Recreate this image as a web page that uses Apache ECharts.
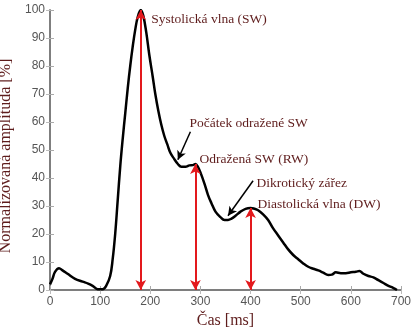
<!DOCTYPE html>
<html>
<head>
<meta charset="utf-8">
<script src="https://cdn.jsdelivr.net/npm/echarts@6/dist/echarts.min.js"></script>
<style>
  html, body { margin: 0; padding: 0; background: #fff; }
  #main { width: 412px; height: 328px; }
</style>
</head>
<body>
<div id="main"></div>
<script>
// čas [ms] a normalizovaná amplituda [%]
var casMs = [0, 5, 10, 18, 25, 35, 50, 65, 76, 85, 95, 105, 112, 120, 125, 130, 135, 140, 145, 150,
  155, 160, 165, 170, 175, 181, 186, 192, 198, 205, 210, 216, 222, 228, 234, 240, 247, 255, 262, 270,
  278, 285, 290, 295, 300, 308, 315, 322, 330, 340, 348, 355, 362, 370, 380, 390, 400, 408, 415, 425,
  435, 445, 455, 465, 475, 485, 495, 505, 515, 525, 535, 545, 555, 562, 570, 580, 590, 600, 610, 617,
  625, 635, 645, 655, 665, 675, 685, 692];
var amplituda = [2, 4, 6.5, 7.8, 7, 5.8, 4, 3, 2.3, 1.5, 0.3, 0.3, 1.5, 5, 11, 20, 32, 44, 54, 63,
  72, 80, 87, 93, 97.5, 100, 98, 92, 84, 76, 70, 64, 59, 55, 52, 49, 47, 45, 44, 44,
  44.5, 44.6, 45, 44, 42, 38, 34, 31, 28, 26, 25, 25, 25.5, 26.5, 28, 29, 29.3, 29, 28.5, 27,
  25, 22, 19.5, 17, 14.5, 12.5, 11, 9.5, 8.3, 7.6, 7, 6.2, 5.4, 5.5, 6.3, 6, 6, 6.3, 6.5, 6.8,
  5.8, 5, 4.5, 3.5, 2.5, 1.5, 0.7, 0];

// vrcholy vln (červené šipky)
var vrcholyX = [181, 290, 400];
var vrcholyY = [100, 45, 29.3];

// popisky
var popisky = ['Systolická vlna (SW)', 'Počátek odražené SW', 'Odražená SW (RW)', 'Dikrotický zářez', 'Diastolická vlna (DW)'];
var popiskyX = [201, 277, 297, 411, 413];
var popiskyY = [96.8, 59.6, 46.8, 38.2, 30.7];

// černé šipky [odkud, kam]
var sipkyOd = [[280, 56.5], [405, 39]];
var sipkyKam = [[255, 46.5], [355, 26.5]];

var serif = '"Liberation Serif", "Times New Roman", serif';
var barvaTextu = '#5e1c1c';

var myChart = echarts.init(document.getElementById('main'));

var krivka = casMs.map(function (v, i) { return [v, amplituda[i]]; });

var cervene = vrcholyX.map(function (x, i) {
  return [
    { coord: [x, vrcholyY[i]], symbol: 'arrow' },
    { coord: [x, 0], symbol: 'arrow' }
  ];
});
var cerne = sipkyOd.map(function (p, i) {
  return [
    { coord: p, symbol: 'none', lineStyle: { color: '#000', width: 1.5, type: 'solid' } },
    { coord: sipkyKam[i], symbol: 'arrow', symbolSize: [7, 9], lineStyle: { color: '#000', width: 1.5, type: 'solid' } }
  ];
});

var option = {
  animation: false,
  grid: { left: 50, right: 11, top: 10, bottom: 38, outerBoundsMode: 'none', containLabel: false },
  xAxis: [{
    type: 'value', min: 0, max: 700, interval: 100,
    name: 'Čas [ms]', nameLocation: 'middle', nameGap: 21,
    nameTextStyle: { fontFamily: serif, fontSize: 16, color: barvaTextu },
    axisLine: { lineStyle: { color: '#777', width: 1.5 } },
    axisTick: { inside: true, length: 4, lineStyle: { color: '#aaa' } },
    axisLabel: { color: '#555', fontSize: 12, margin: 6, fontFamily: 'Liberation Sans, Arial, sans-serif' },
    splitLine: { show: false }
  }, {
    type: 'value', min: 0, max: 700, interval: 100, position: 'top',
    axisLine: { show: true, lineStyle: { color: '#777', width: 1.5 } },
    axisTick: { inside: true, length: 4, lineStyle: { color: '#bbb' } },
    axisLabel: { show: false }, splitLine: { show: false }
  }],
  yAxis: [{
    type: 'value', min: 0, max: 100, interval: 10,
    name: 'Normalizovaná amplituda [%]', nameLocation: 'middle', nameGap: 31,
    nameTextStyle: { fontFamily: serif, fontSize: 16, color: barvaTextu, padding: [0, 12, 0, 0] },
    axisLine: { show: true, lineStyle: { color: '#777', width: 1.5 } },
    axisTick: { show: true, inside: true, length: 4, lineStyle: { color: '#aaa' } },
    axisLabel: { color: '#555', fontSize: 12, margin: 5, fontFamily: 'Liberation Sans, Arial, sans-serif' },
    splitLine: { show: false }
  }, {
    type: 'value', min: 0, max: 100, interval: 10, position: 'right',
    axisLine: { show: true, lineStyle: { color: '#777', width: 1.5 } },
    axisTick: { show: true, inside: true, length: 4, lineStyle: { color: '#bbb' } },
    axisLabel: { show: false }, splitLine: { show: false }
  }],
  series: [{
    type: 'line',
    data: krivka,
    smooth: 0.4,
    showSymbol: false,
    lineStyle: { color: '#000', width: 2.5 },
    markLine: {
      silent: true,
      symbolSize: [8, 10],
      label: { show: false },
      lineStyle: { color: '#e3191d', width: 2, type: 'solid' },
      data: cervene.concat(cerne)
    },
    markPoint: {
      silent: true,
      data: popisky.map(function (t, i) {
        return {
          coord: [popiskyX[i], popiskyY[i]],
          symbol: 'circle', symbolSize: 1,
          itemStyle: { color: 'rgba(0,0,0,0)' },
          label: {
            show: true, position: 'right', distance: 0, formatter: t,
            fontFamily: serif, fontSize: 13.5, color: barvaTextu
          }
        };
      })
    }
  }]
};

myChart.setOption(option);
</script>
</body>
</html>
